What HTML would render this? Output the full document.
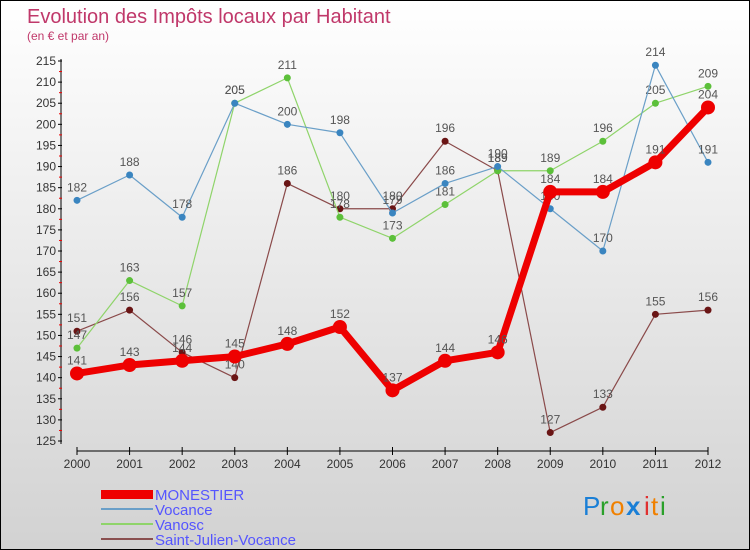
<!DOCTYPE html>
<html><head><meta charset="utf-8"><style>
body{margin:0;}
#wrap{width:748px;height:548px;border:1px solid #000;background:linear-gradient(#ffffff,#d2d2d2);position:relative;overflow:hidden;font-family:"Liberation Sans","DejaVu Sans",sans-serif;}
svg text{font-family:"Liberation Sans","DejaVu Sans",sans-serif;}
</style></head><body>
<div id="wrap">
<svg id="chart" width="748" height="548">
<text x="26" y="22" font-size="20" fill="#c0386a">Evolution des Impôts locaux par Habitant</text>
<text x="26" y="39" font-size="12" fill="#c0386a">(en € et par an)</text>
<g id="axes"></g><g id="series"></g>
<g>
<rect x="100" y="489" width="52" height="9" fill="#e00"/>
<text x="154" y="499" font-size="15" fill="#5555ff">MONESTIER</text>
<rect x="100" y="507" width="52" height="2" fill="#6a9fc8"/>
<text x="154" y="514" font-size="15" fill="#5555ff">Vocance</text>
<rect x="100" y="522" width="52" height="2" fill="#8fd46a"/>
<text x="154" y="529" font-size="15" fill="#5555ff">Vanosc</text>
<rect x="100" y="537" width="52" height="2" fill="#8a5050"/>
<text x="154" y="544" font-size="15" fill="#5555ff">Saint-Julien-Vocance</text>
</g>
<g font-size="26">
<text x="582" y="514" fill="#1a7fd6">P</text><text x="599" y="514" fill="#2aa02a">r</text><text x="609" y="514" fill="#f08000">o</text><text x="625" y="514" fill="#1a7fd6" font-weight="bold">x</text><text x="643" y="514" fill="#e03030">i</text><text x="650" y="514" fill="#f08000">t</text><text x="659" y="514" fill="#2aa02a">i</text>
</g>
</svg></div>
<script>
const years=[2000,2001,2002,2003,2004,2005,2006,2007,2008,2009,2010,2011,2012];
const monestier=[141,143,144,145,148,152,137,144,146,184,184,191,204];
const vocance=[182,188,178,205,200,198,179,186,190,180,170,214,191];
const vanosc=[147,163,157,205,211,178,173,181,189,189,196,205,209];
const saintJulien=[151,156,146,140,186,180,180,196,189,127,133,155,156];
const yTicks=[125,130,135,140,145,150,155,160,165,170,175,180,185,190,195,200,205,210,215];
const NS='http://www.w3.org/2000/svg';
function xs(i){return 76+i*(707-76)/(years.length-1);}
function ys(v){return 440-(v-125)*(380/90);}
function mk(t,a,p){const e=document.createElementNS(NS,t);for(const k in a)e.setAttribute(k,a[k]);p.appendChild(e);return e;}
const ax=document.getElementById('axes');
let l=mk('line',{x1:60,y1:58,x2:60,y2:443,stroke:'#000','stroke-width':1},ax);


yTicks.forEach((v,k)=>{
 mk('line',{x1:57,x2:61,y1:ys(v),y2:ys(v),stroke:'#000'},ax);
 if(k<yTicks.length-1) mk('line',{x1:58,x2:61,y1:ys(v+2.5),y2:ys(v+2.5),stroke:'#e00'},ax);
 const t=mk('text',{x:55,y:ys(v)+4,'font-size':12,fill:'#333','text-anchor':'end'},ax);t.textContent=v;
 
 
});
l=mk('line',{x1:76,y1:450,x2:707,y2:450,stroke:'#000'},ax);


years.forEach((y,i)=>{
 mk('line',{x1:xs(i),x2:xs(i),y1:446,y2:454,stroke:'#000'},ax);
 const t=mk('text',{x:xs(i),y:467,'font-size':12,fill:'#333','text-anchor':'middle'},ax);t.textContent=y;
 
 
});
const sg=document.getElementById('series');
function draw(data,color,w,r,dot,name){
 const g=mk('g',{},sg);
 
 
 const p=mk('polyline',{points:data.map((v,i)=>xs(i)+','+ys(v)).join(' '),fill:'none',stroke:color,'stroke-width':w,'stroke-linejoin':'round'},g);
 
 
 data.forEach((v,i)=>{
  const c=mk('circle',{cx:xs(i),cy:ys(v),r:r,fill:dot},g);
  
  
  const t=mk('text',{x:xs(i),y:ys(v)-9,'font-size':12,fill:'#555','text-anchor':'middle'},g);t.textContent=v;
  
  
 });
}
draw(saintJulien,'#8a4a4a',1.2,3.5,'#6a1515','saint-julien');
draw(vanosc,'#8fd46a',1.2,3.5,'#5cc03a','vanosc');
draw(vocance,'#6a9fc8',1.2,3.5,'#3a85c0','vocance');
draw(monestier,'#ee0000',7,7,'#ee0000','monestier');
</script>
</body></html>
